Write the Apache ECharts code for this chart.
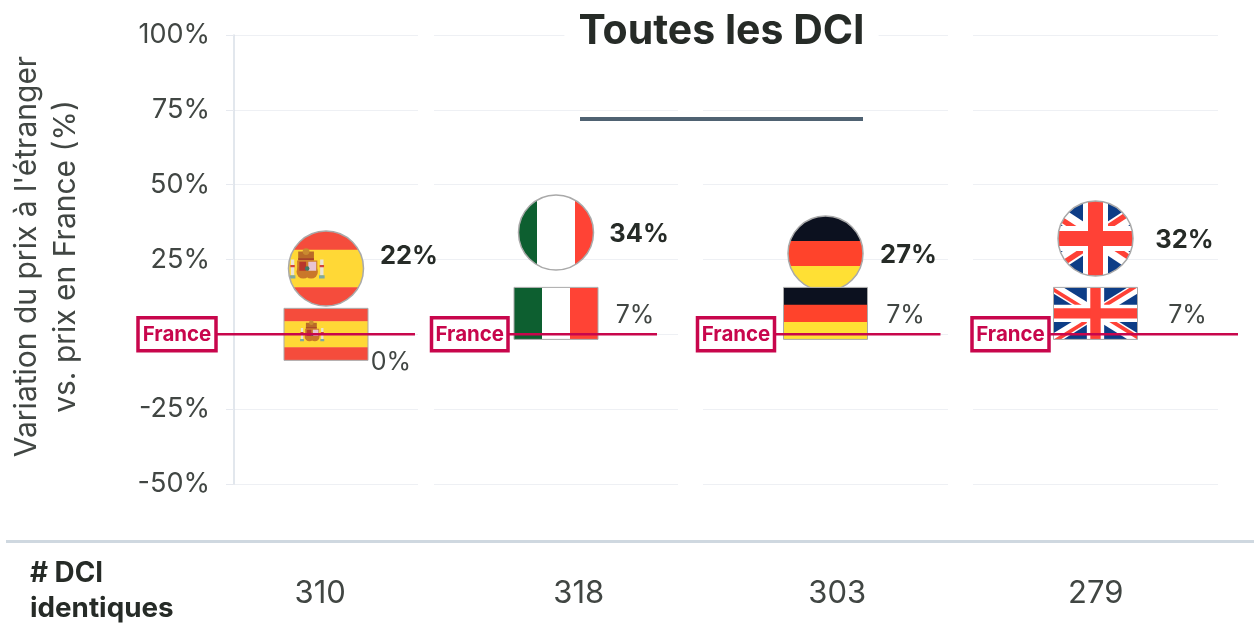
<!DOCTYPE html>
<html><head><meta charset="utf-8">
<style>html,body{margin:0;padding:0;background:#fff}#c{width:1259px;height:635px}</style>
<script src="https://cdn.jsdelivr.net/npm/echarts@6/dist/echarts.min.js"></script>
</head><body><div id="c"></div>
<script>
// ---- data ----
const countries = ['Espagne', 'Italie', 'Allemagne', 'Royaume-Uni'];
const allDciValues = [22, 34, 27, 32];      // round flags, bold labels
const sameDciValues = [0, 7, 7, 7];         // rectangular flags
const franceReference = [0, 0, 0, 0];
const identicalDciCounts = ['310', '318', '303', '279'];
const yTicksMin = -50, yTicksMax = 100, yTickStep = 25;

// ---- layout & style (not data) ----
const panels = [[234, 184], [434, 244], [703, 245], [973, 245]];
const boldLabelOffset = [[83, -12], [83, 2], [83, 2], [89, 2]];
const plainLabelOffset = [[65, 28], [79, 2], [80, 2], [92, 2]];
const franceBox = [[-188, -110, 89], [-124.5, -48, 101], [-128, -51, 115], [-123.5, -46.5, 142.5]];
const FONT = 'Inter';
const INK = '#262b27';
const TXT = '#414643';
const CRIMSON = '#c8064c';

function stripesH(cx, cy, w, h, fracs, cols) {
  let y = cy - h / 2; const out = [];
  fracs.forEach((f, i) => { out.push({type:'rect', shape:{x:cx-w/2, y, width:w, height:h*f+0.4}, style:{fill:cols[i]}}); y += h*f; });
  return out;
}
function coat(cx, cy, s) {
  const R = (x,y,w,h,fill) => ({type:'rect', shape:{x:cx+x*s, y:cy+y*s, width:w*s, height:h*s}, style:{fill}});
  const C = (x,y,r,fill) => ({type:'circle', shape:{cx:cx+x*s, cy:cy+y*s, r:r*s}, style:{fill}});
  return [
    R(-14.5,-8,3,14,'#e9e3d6'), R(11.5,-8,3,14,'#e9e3d6'),
    R(-15,-3,4,2,'#d2453a'), R(11,-3,4,2,'#d2453a'),
    R(-15.5,6,5,3,'#7fa9a0'), R(10.5,6,5,3,'#7fa9a0'),
    R(-8,-15,14,7,'#b96a28'), C(-1,-15,3,'#c98a30'), R(-8,-9,14,2,'#a8402a'),
    R(-9,-7,18,9,'#d07f2c'), C(-3.5,3,6,'#c9772a'), C(3.5,3,6,'#c9772a'),
    R(-7,-6,6,8,'#b8372c'), R(1,-6,7,8,'#e8c4d4'), C(0,0,2,'#3f7a68')
  ];
}
function unionJack(cx, cy, w, h) {
  const out = [{type:'rect', shape:{x:cx-w/2, y:cy-h/2, width:w, height:h}, style:{fill:'#0d3d86'}}];
  const L = Math.hypot(w, h), nx = h/L, ny = w/L;
  const t = h*6/30;
  [[-1,-1],[1,-1],[1,1],[-1,1]].forEach(([a,b]) => {
    const px = cx+a*w/2, py = cy+b*h/2;
    const sx = a*b>0 ? nx : -nx, sy = -ny;
    const ox = sx*t/2, oy = sy*t/2;
    out.push({type:'polygon', shape:{points:[[cx+ox,cy+oy],[px+ox,py+oy],[px-ox,py-oy],[cx-ox,cy-oy]]}, style:{fill:'#fff'}});
  });
  const r = h*2.2/30;
  [[-1,-1,0,1],[1,-1,-1,0],[1,1,0,-1],[-1,1,1,0]].forEach(([a,b,dx,dy]) => {
    const px = cx+a*w/2, py = cy+b*h/2;
    let sx = a*b>0 ? nx : -nx, sy = -ny;
    if (sx*dx + sy*dy < 0) { sx = -sx; sy = -sy; }
    const ox = sx*r, oy = sy*r;
    out.push({type:'polygon', shape:{points:[[cx,cy],[px,py],[px+ox,py+oy],[cx+ox,cy+oy]]}, style:{fill:'#ff4136'}});
  });
  out.push({type:'rect', shape:{x:cx-w/2, y:cy-h/6, width:w, height:h/3}, style:{fill:'#fff'}});
  out.push({type:'rect', shape:{x:cx-h/6, y:cy-h/2, width:h/3, height:h}, style:{fill:'#fff'}});
  out.push({type:'rect', shape:{x:cx-w/2, y:cy-h/10, width:w, height:h/5}, style:{fill:'#ff4136'}});
  out.push({type:'rect', shape:{x:cx-h/10, y:cy-h/2, width:h/5, height:h}, style:{fill:'#ff4136'}});
  return out;
}
const painters = [
  (cx,cy,w,h) => stripesH(cx,cy,w,h,[.25,.5,.25],['#f54c3c','#ffd836','#f54c3c']).concat(coat(cx-w*0.165, cy, h/52*0.78)),
  (cx,cy,w,h) => [
    {type:'rect', shape:{x:cx-w/2, y:cy-h/2, width:w/3+.4, height:h}, style:{fill:'#0d5f30'}},
    {type:'rect', shape:{x:cx-w/6, y:cy-h/2, width:w/3+.4, height:h}, style:{fill:'#fff'}},
    {type:'rect', shape:{x:cx+w/6, y:cy-h/2, width:w/3, height:h}, style:{fill:'#ff4335'}}],
  (cx,cy,w,h) => stripesH(cx,cy,w,h,[1/3,1/3,1/3],['#0c111f','#ff432b','#ffe034']),
  unionJack
];

function roundFlag(i) {
  return function (params, api) {
    const p = api.coord([api.value(0), api.value(1)]);
    const r = 37.5, o = boldLabelOffset[i];
    return {type:'group', children:[
      {type:'group', clipPath:{type:'circle', shape:{cx:p[0], cy:p[1], r}}, children: painters[i](p[0], p[1], 114, 75)},
      {type:'circle', shape:{cx:p[0], cy:p[1], r}, style:{fill:'none', stroke:'#a9a9a9', lineWidth:1.5}},
      {type:'text', style:{x:p[0]+o[0], y:p[1]+o[1], text:api.value(1)+'%', textAlign:'center', textVerticalAlign:'middle',
        fill:INK, font:'700 25.5px '+FONT}}
    ]};
  };
}
function rectFlag(i) {
  return function (params, api) {
    const p = api.coord([api.value(0), api.value(1)]);
    const w = 84, h = 52, o = plainLabelOffset[i];
    return {type:'group', children:[
      {type:'group', clipPath:{type:'rect', shape:{x:p[0]-w/2, y:p[1]-h/2, width:w, height:h}}, children: painters[i](p[0], p[1], w, h)},
      {type:'rect', shape:{x:p[0]-w/2, y:p[1]-h/2, width:w, height:h}, style:{fill:'none', stroke:'#a9a9a9', lineWidth:1}},
      {type:'text', style:{x:p[0]+o[0], y:p[1]+o[1], text:api.value(1)+'%', textAlign:'center', textVerticalAlign:'middle',
        fill:TXT, font:'400 25px '+FONT}}
    ]};
  };
}
function franceMark(i) {
  return function (params, api) {
    const p = api.coord([api.value(0), api.value(1)]);
    const b = franceBox[i], y = p[1];
    return {type:'group', children:[
      {type:'line', shape:{x1:p[0]+b[1], y1:y, x2:p[0]+b[2], y2:y}, style:{stroke:CRIMSON, lineWidth:2.5}},
      {type:'rect', shape:{x:p[0]+b[0], y:y-16.5, width:b[1]-b[0], height:33}, style:{fill:'#fff', stroke:CRIMSON, lineWidth:3.5}},
      {type:'text', style:{x:p[0]+(b[0]+b[1])/2, y:y+1, text:'France', textAlign:'center', textVerticalAlign:'middle',
        fill:CRIMSON, font:'700 20.5px '+FONT}}
    ]};
  };
}

const grids = [], xAxes = [], yAxes = [], series = [];
panels.forEach((pn, i) => {
  grids.push({left:pn[0], width:pn[1], top:35, height:449, outerBoundsMode:'none'});
  xAxes.push({type:'category', gridIndex:i, data:[countries[i]], show:false});
  yAxes.push({type:'value', gridIndex:i, min:yTicksMin, max:yTicksMax, interval:yTickStep,
    name: i===0 ? "Variation du prix à l'étranger\nvs. prix en France (%)" : '',
    nameLocation:'middle', nameGap:142, nameRotate:90,
    nameTextStyle:{fontFamily:FONT, fontWeight:400, fontSize:30, color:TXT, lineHeight:39, padding:[0,0,7,6]},
    axisLine:{show:i===0, lineStyle:{color:'#d9dfe7', width:1.5}},
    axisTick:{show:i===0, length:8, lineStyle:{color:'#e6e9ef'}},
    axisLabel:{show:i===0, formatter:'{value}%', margin:24, padding:[2,0,0,0], fontFamily:FONT, fontWeight:400, fontSize:27, color:TXT},
    splitLine:{show:true, lineStyle:{color:'#eef0f4', width:1}}
  });
  const common = {type:'custom', xAxisIndex:i, yAxisIndex:i, encode:{x:0, y:1}};
  series.push(Object.assign({}, common, {name:'Toutes les DCI', z:3, renderItem:roundFlag(i), data:[[0, allDciValues[i]]]}));
  series.push(Object.assign({}, common, {name:'DCI identiques', z:4, renderItem:rectFlag(i), data:[[0, sameDciValues[i]]]}));
  series.push(Object.assign({}, common, {name:'France', z:5, renderItem:franceMark(i), data:[[0, franceReference[i]]]}));
});
grids.push({left:191, width:1034, top:569, height:1, outerBoundsMode:'none'});
xAxes.push({type:'category', gridIndex:4, data:identicalDciCounts, axisLine:{show:false}, axisTick:{show:false},
  axisLabel:{margin:8, fontFamily:FONT, fontWeight:400, fontSize:31, color:TXT}});
yAxes.push({type:'value', gridIndex:4, show:false});

const chart = echarts.init(document.getElementById('c'), null, {renderer:'canvas'});
chart.setOption({
  animation:false, backgroundColor:'#fff',
  title:{text:'Toutes les DCI', left:707.5, top:7, textAlign:'center', padding:[4,14], backgroundColor:'#fff', z:2,
    textStyle:{fontFamily:FONT, fontWeight:700, fontSize:41, color:INK}},
  grid:grids, xAxis:xAxes, yAxis:yAxes, series,
  graphic:[
    {type:'line', shape:{x1:580, y1:119, x2:863, y2:119}, style:{stroke:'#4f6272', lineWidth:4}},
    {type:'line', shape:{x1:6, y1:541.5, x2:1254, y2:541.5}, style:{stroke:'#cfd8e0', lineWidth:3}},
    {type:'text', left:30, top:556, style:{text:'# DCI\nidentiques', fill:INK, font:'700 27.8px '+FONT, lineHeight:35}}
  ]
});
</script></body></html>
